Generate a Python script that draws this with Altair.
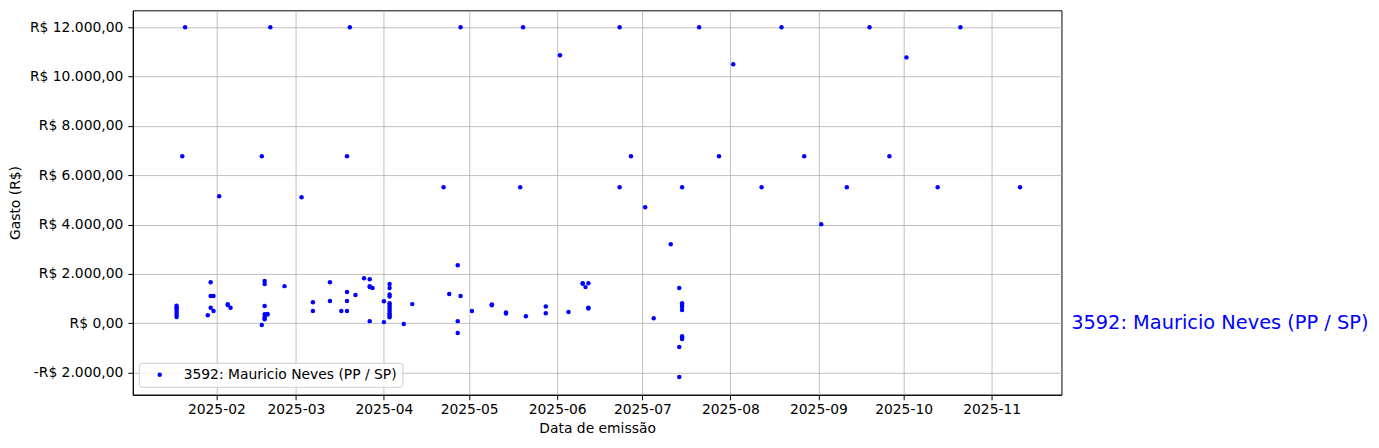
import altair as alt
import pandas as pd

SERIES = "3592: Mauricio Neves (PP / SP)"

dates = (
    ["2025-01-18"] * 7
    + ["2025-01-20", "2025-01-21", "2025-01-29"]
    + ["2025-01-30"] * 3
    + ["2025-01-31"] * 2
    + ["2025-02-02", "2025-02-05", "2025-02-05", "2025-02-06", "2025-02-17", "2025-02-17"]
    + ["2025-02-18"] * 6
    + ["2025-02-19", "2025-02-19", "2025-02-20", "2025-02-25", "2025-03-03"]
    + ["2025-03-07"] * 2
    + ["2025-03-13"] * 2
    + ["2025-03-17"]
    + ["2025-03-19"] * 4
    + ["2025-03-20", "2025-03-22", "2025-03-25"]
    + ["2025-03-27"] * 4
    + ["2025-03-28", "2025-04-01", "2025-04-01"]
    + ["2025-04-03"] * 12
    + ["2025-04-08", "2025-04-11", "2025-04-22", "2025-04-24"]
    + ["2025-04-27"] * 3
    + ["2025-04-28"] * 2
    + ["2025-05-02", "2025-05-09", "2025-05-09", "2025-05-14", "2025-05-14",
       "2025-05-19", "2025-05-20", "2025-05-21", "2025-05-28", "2025-05-28",
       "2025-06-02", "2025-06-05", "2025-06-10", "2025-06-10", "2025-06-11"]
    + ["2025-06-12"] * 3
    + ["2025-06-23", "2025-06-23", "2025-06-27", "2025-07-02", "2025-07-05", "2025-07-11"]
    + ["2025-07-14"] * 3
    + ["2025-07-15"] * 8
    + ["2025-07-21", "2025-07-28", "2025-08-02", "2025-08-12", "2025-08-19", "2025-08-27",
       "2025-09-02", "2025-09-11", "2025-09-19", "2025-09-26", "2025-10-02", "2025-10-13",
       "2025-10-21", "2025-11-11"]
)

values = (
    [700, 630, 570, 490, 410, 330, 250]
    + [6770, 12000, 320]
    + [1660, 1100, 620]
    + [1100, 490]
    + [5150, 770, 730, 620, 6770, -80]
    + [1710, 1590, 690, 360, 240, 160]
    + [370, 350, 12000, 1500, 5110]
    + [850, 490]
    + [1660, 900]
    + [490]
    + [6770, 1260, 900, 490]
    + [12000, 1140, 1820]
    + [1780, 1500, 1460, 80]
    + [1420, 890, 40]
    + [1590, 1420, 1160, 1080, 810, 730, 650, 570, 490, 400, 320, 240]
    + [-40, 770, 5510, 1180]
    + [2350, 80, -400]
    + [1100, 12000]
    + [490, 760, 720, 430, 390,
       5510, 12000, 280, 670, 400,
       10870, 450, 1620, 1600, 1460]
    + [1620, 620, 590]
    + [12000, 5510, 6770, 4700, 200, 3200]
    + [1420, -970, -2190]
    + [5510, 810, 730, 650, 530, -530, -600, -650]
    + [12000, 6770, 10500, 5510, 12000, 6770,
       4010, 5510, 12000, 6770, 10780, 5510,
       12000, 5510]
)

x_tick_months = [2, 3, 4, 5, 6, 7, 8, 9, 10, 11]
y_tick_values = [-2000, 0, 2000, 4000, 6000, 8000, 10000, 12000]
label_date = ["2025-11-29"]
label_value = [0]

df = pd.DataFrame({"data": dates, "gasto": values, "serie": SERIES})
df_label = pd.DataFrame({"data": label_date, "gasto": label_value, "txt": [SERIES]})

FONT = "DejaVu Sans"

y_label_expr = (
    "(datum.value < 0 ? '-' : '') + 'R$ ' + "
    "replace(replace(replace(format(abs(datum.value), ',.2f'), '.', ';'), ',', '.'), ';', ',')"
)

x_scale = alt.Scale(
    type="utc",
    domain=[
        alt.DateTime(year=2025, month=1, date=2, hours=14, utc=True),
        alt.DateTime(year=2025, month=11, date=25, hours=14, utc=True),
    ],
)
y_scale = alt.Scale(domain=[-2907, 12690], nice=False, zero=False)

points = alt.Chart(df).mark_circle(size=20, opacity=1).encode(
    x=alt.X(
        "data:T",
        scale=x_scale,
        axis=alt.Axis(
            values=[alt.DateTime(year=2025, month=m, date=1, utc=True) for m in x_tick_months],
            format="%Y-%m",
            title="Data de emissão",
            labelPadding=3,
            titlePadding=5,
        ),
    ),
    y=alt.Y(
        "gasto:Q",
        scale=y_scale,
        axis=alt.Axis(
            values=y_tick_values,
            labelExpr=y_label_expr,
            title="Gasto (R$)",
            labelPadding=5,
            titlePadding=7,
        ),
    ),
    color=alt.Color(
        "serie:N",
        scale=alt.Scale(range=["#0000ff"]),
        legend=alt.Legend(
            title=None,
            orient="none",
            legendX=6,
            legendY=353,
            padding=5,
            strokeColor="#cccccc",
            fillColor="rgba(255,255,255,0.8)",
            cornerRadius=3,
            symbolType="circle",
            symbolSize=20,
            symbolStrokeWidth=0,
            symbolOffset=9,
            labelOffset=17,
            labelLimit=0,
            labelFont=FONT,
            labelFontSize=13.9,
            labelColor="black",
        ),
    ),
)

label = alt.Chart(df_label).mark_text(
    align="left", baseline="middle", fontSize=19.4, color="#0000ff", font=FONT, clip=False
).encode(
    x=alt.X("data:T"),
    y=alt.Y("gasto:Q"),
    text="txt:N",
)

chart = (
    alt.layer(points, label)
    .properties(
        width=930,
        height=385,
        autosize=alt.AutoSizeParams(type="none"),
        padding={"left": 125, "top": 2, "right": 310, "bottom": 45},
        background="white",
    )
    .configure_axis(
        grid=True,
        gridColor="#b0b0b0",
        gridWidth=0.8,
        domainColor="black",
        domainWidth=1,
        tickColor="black",
        tickSize=5,
        tickWidth=1,
        labelFont=FONT,
        labelFontSize=13.9,
        labelColor="black",
        titleFont=FONT,
        titleFontSize=13.9,
        titleFontWeight="normal",
        titleColor="black",
        zindex=1,
    )
    .configure_view(stroke="black", strokeWidth=1)
)

chart.save("out.html", embed_options={"renderer": "svg", "actions": False})
